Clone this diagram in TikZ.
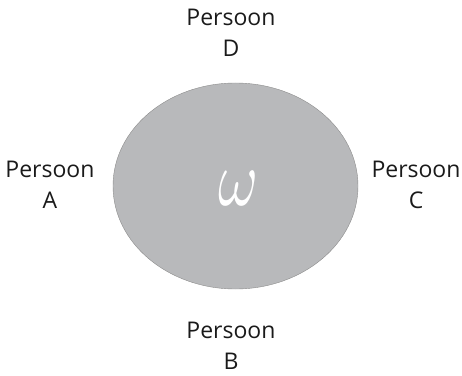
\documentclass[tikz,border=0pt]{standalone}
\usepackage{fontspec}
\setmainfont{Open Sans}
\usepackage{tikz}
\usetikzlibrary{shapes.geometric}
\definecolor{grisfond}{HTML}{B8B9BB}
\definecolor{grisbord}{HTML}{8C8C8C}
\definecolor{noirtexte}{HTML}{1A1A1A}
\begin{document}
\begin{tikzpicture}[x=1pt,y=1pt,
  blob/.style={ellipse,draw=grisbord,fill=grisfond,thin,minimum width=245pt,minimum height=206pt,inner sep=0pt},
  pers/.style={font=\fontsize{23}{31}\selectfont,align=center,text=noirtexte,inner sep=0pt}]
  \useasboundingbox (0,0) rectangle (462,375);
  \node[blob] (w) at (235.5,189) {};
  \node[text=white,inner sep=0pt] (omega) at (238,187) {\resizebox{40pt}{34pt}{$\omega$}};
  \node[pers] (pA) at (50,190.5) {Persoon\\A};
  \node[pers] (pB) at (231,29.5) {Persoon\\B};
  \node[pers] (pC) at (416,190.5) {Persoon\\C};
  \node[pers] (pD) at (231,342) {Persoon\\D};
\end{tikzpicture}
\end{document}
